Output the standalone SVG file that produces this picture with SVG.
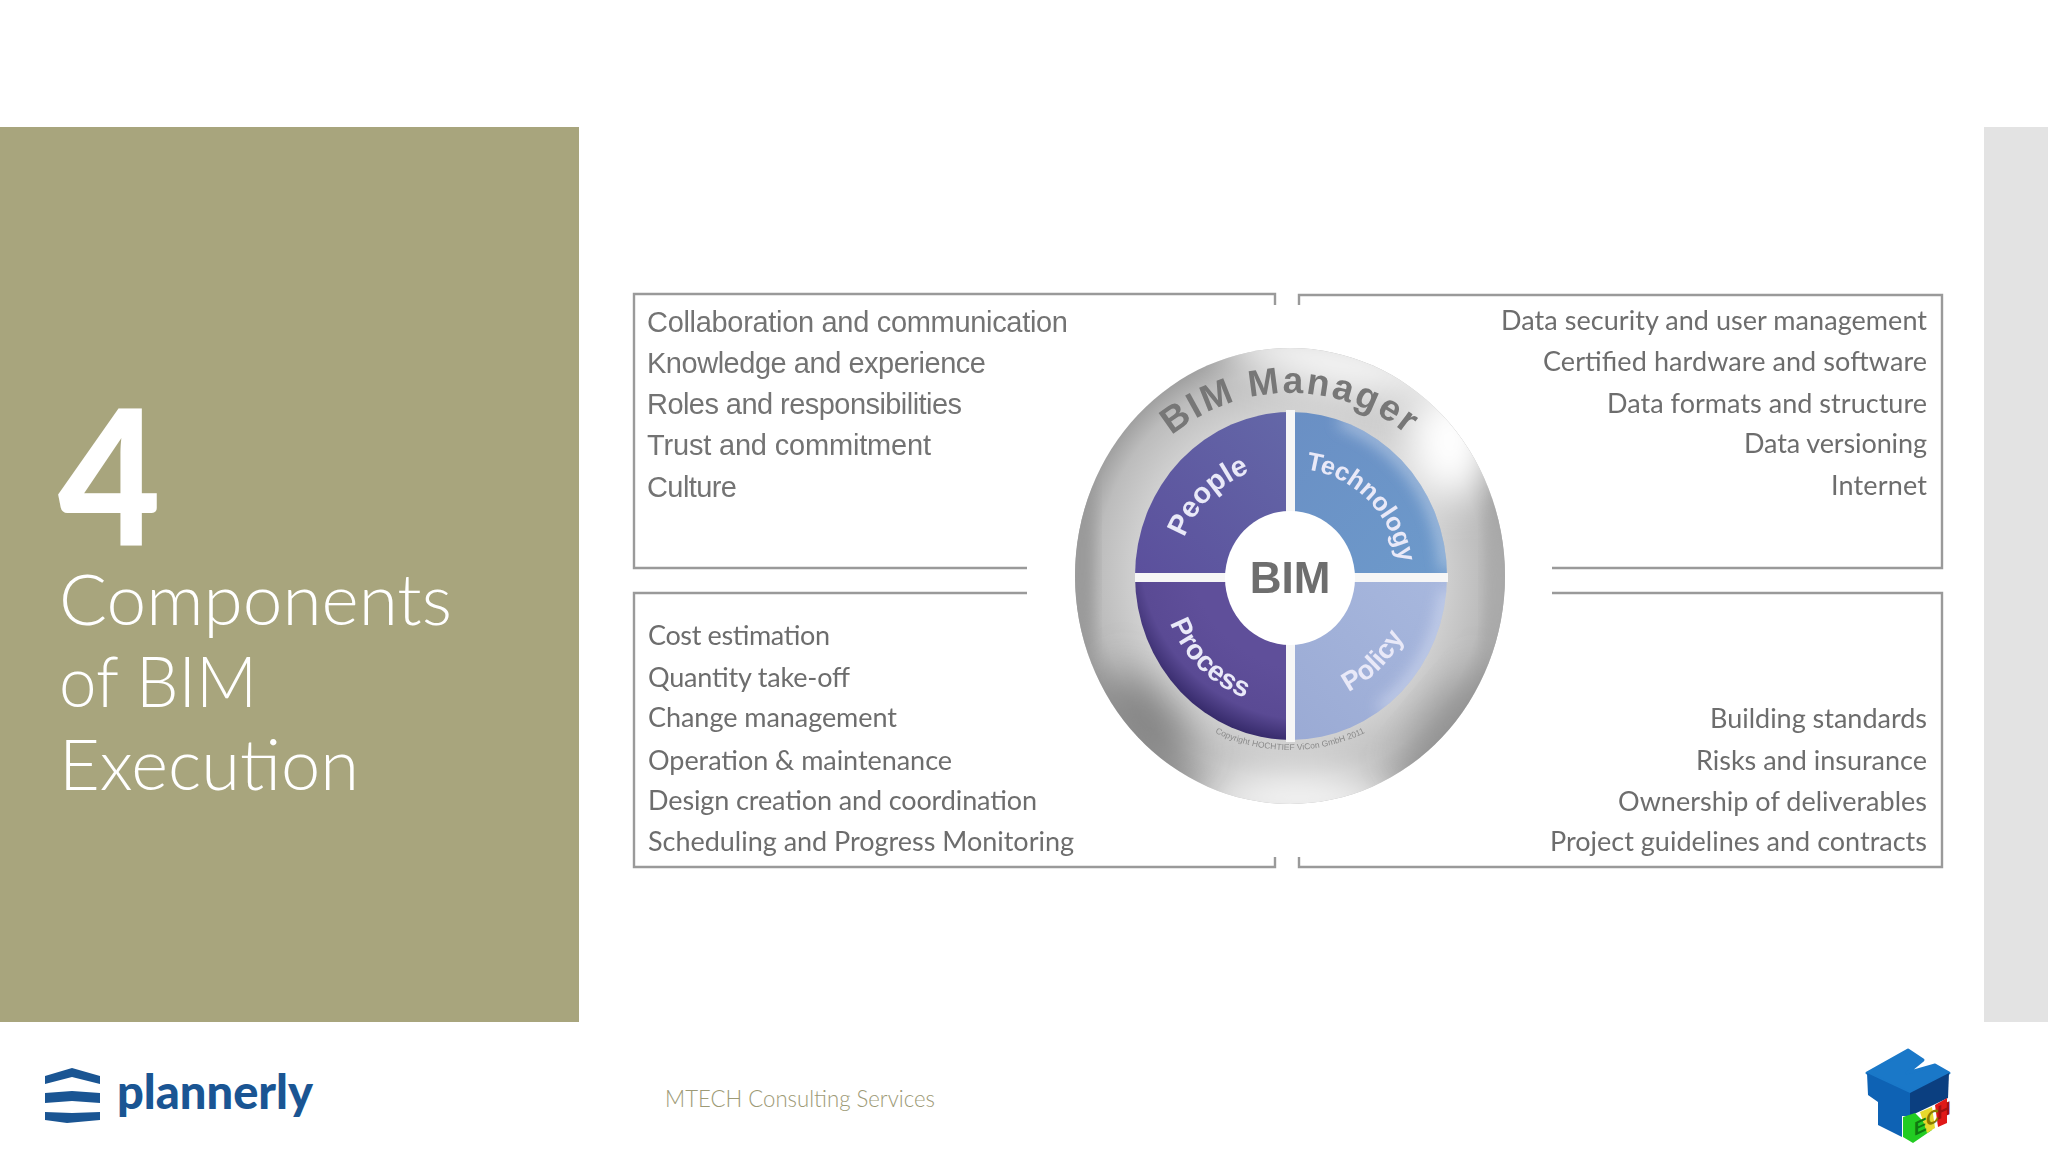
<svg xmlns="http://www.w3.org/2000/svg" xmlns:xlink="http://www.w3.org/1999/xlink" width="2048" height="1152" viewBox="0 0 2048 1152">
<style>
.h{font-family:"Liberation Sans",Arial,sans-serif;font-size:29px;fill:#737373}
.c{font-family:Lato,"Open Sans",sans-serif;font-size:27px;fill:#6d6d6d}
.title{font-family:Lato,"Open Sans",sans-serif;font-weight:300;font-size:70px;fill:#fff}
.f{fill:none;stroke:#9a9a9a;stroke-width:2.4}
.q{font-family:"Liberation Sans",Arial,sans-serif;font-weight:700;fill:#e9e9f8;text-anchor:middle}
</style>
<defs>
<filter id="soft" x="-5%" y="-20%" width="110%" height="140%"><feGaussianBlur stdDeviation="0.55"/></filter>
<filter id="b20" x="-60%" y="-100%" width="220%" height="300%"><feGaussianBlur stdDeviation="20"/></filter>
<filter id="b8" x="-30%" y="-30%" width="160%" height="160%"><feGaussianBlur stdDeviation="8"/></filter>
<clipPath id="discClip"><ellipse cx="1290" cy="576" rx="215" ry="228"/></clipPath>
<clipPath id="innerClip"><ellipse cx="1291" cy="576" rx="156" ry="164"/></clipPath>
<radialGradient id="metal" cx="0.5" cy="0.5" r="0.5"><stop offset="0.68" stop-color="#d4d4d4"/><stop offset="0.9" stop-color="#bcbcbc"/><stop offset="1" stop-color="#a0a0a0"/></radialGradient>
<linearGradient id="peopleG" x1="0" y1="1" x2="1" y2="0"><stop offset="0" stop-color="#5b4f9c"/><stop offset="1" stop-color="#6468a8"/></linearGradient>
<linearGradient id="techG" x1="0" y1="0" x2="1" y2="1"><stop offset="0" stop-color="#6a8fc4"/><stop offset="1" stop-color="#6d9acb"/></linearGradient>
<radialGradient id="procG" gradientUnits="userSpaceOnUse" cx="1310" cy="550" r="200"><stop offset="0.6" stop-color="#5f4f9a"/><stop offset="0.85" stop-color="#5a4a94"/><stop offset="1" stop-color="#2d2260"/></radialGradient>
<linearGradient id="polG" x1="0" y1="1" x2="1" y2="0"><stop offset="0" stop-color="#9aaad4"/><stop offset="1" stop-color="#a8b8de"/></linearGradient>
<path id="pManager" d="M1105 578A185 185 0 0 1 1475 578"/>
<path id="pPeople" d="M1177 578A113 113 0 0 1 1290 465"/>
<path id="pTech" d="M1290 468A110 110 0 0 1 1400 578"/>
<path id="pProcess" d="M1162 578A128 128 0 0 0 1290 706"/>
<path id="pPolicy" d="M1290 706A128 128 0 0 0 1418 578"/>
<path id="pCopy" d="M1118 578A172 172 0 0 0 1462 578"/>
</defs>
<rect width="2048" height="1152" fill="#fff"/>
<rect id="panel-left" x="0" y="127" width="579" height="895" fill="#a8a57d"/>
<rect id="panel-right" x="1984" y="127" width="64" height="895" fill="#e3e3e3"/>
<g id="title">
<text x="58" y="546" font-family="Lato,'Open Sans',sans-serif" font-weight="900" font-size="189" fill="#fff" textLength="103" lengthAdjust="spacingAndGlyphs">4</text>
<text class="title" x="59" y="625" textLength="393" lengthAdjust="spacingAndGlyphs">Components</text>
<text class="title" x="59" y="707" textLength="198" lengthAdjust="spacingAndGlyphs">of BIM</text>
<text class="title" x="59" y="790" textLength="300" lengthAdjust="spacingAndGlyphs">Execution</text>
</g>
<g id="box-people">
<path class="f" d="M1275 305V294H634V568H1027"/>
<g filter="url(#soft)">
<text class="h" x="647" y="332" textLength="421">Collaboration and communication</text>
<text class="h" x="647" y="373" textLength="339">Knowledge and experience</text>
<text class="h" x="647" y="414" textLength="315">Roles and responsibilities</text>
<text class="h" x="647" y="455" textLength="284">Trust and commitment</text>
<text class="h" x="647" y="497" textLength="90">Culture</text>
</g>
</g>
<g id="box-technology">
<path class="f" d="M1299 305V295H1942V568H1552"/>
<g filter="url(#soft)">
<text class="c" x="1501" y="330" textLength="426">Data security and user management</text>
<text class="c" x="1543" y="371" textLength="384">Certified hardware and software</text>
<text class="c" x="1607" y="413" textLength="320">Data formats and structure</text>
<text class="c" x="1744" y="453" textLength="183">Data versioning</text>
<text class="c" x="1831" y="495" textLength="96">Internet</text>
</g>
</g>
<g id="box-process">
<path class="f" d="M1027 593H634V867H1275V857"/>
<g filter="url(#soft)">
<text class="c" x="648" y="645" textLength="182">Cost estimation</text>
<text class="c" x="648" y="687" textLength="202">Quantity take-off</text>
<text class="c" x="648" y="727" textLength="249">Change management</text>
<text class="c" x="648" y="770" textLength="304">Operation &amp; maintenance</text>
<text class="c" x="648" y="810" textLength="389">Design creation and coordination</text>
<text class="c" x="648" y="851" textLength="426">Scheduling and Progress Monitoring</text>
</g>
</g>
<g id="box-policy">
<path class="f" d="M1552 593H1942V867H1299V857"/>
<g filter="url(#soft)">
<text class="c" x="1710" y="728" textLength="217">Building standards</text>
<text class="c" x="1696" y="770" textLength="231">Risks and insurance</text>
<text class="c" x="1618" y="811" textLength="309">Ownership of deliverables</text>
<text class="c" x="1550" y="851" textLength="377">Project guidelines and contracts</text>
</g>
</g>
<g id="disc">
<ellipse cx="1290" cy="576" rx="215" ry="228" fill="url(#metal)"/>
<g clip-path="url(#discClip)">
<ellipse cx="1340" cy="362" rx="130" ry="26" fill="#fff" filter="url(#b20)" transform="rotate(12 1340 362)"/>
<ellipse cx="1450" cy="440" rx="45" ry="60" fill="#fff" filter="url(#b20)"/>
<ellipse cx="1300" cy="800" rx="110" ry="26" fill="#fff" filter="url(#b20)"/>
<ellipse cx="1148" cy="720" rx="60" ry="22" fill="#777" filter="url(#b20)" transform="rotate(50 1148 720)"/>
<ellipse cx="1448" cy="722" rx="60" ry="16" fill="#8a8a8a" filter="url(#b20)" transform="rotate(-50 1448 722)"/>
<ellipse cx="1082" cy="560" rx="12" ry="110" fill="#999" filter="url(#b8)"/>
<ellipse cx="1498" cy="590" rx="12" ry="90" fill="#aaa" filter="url(#b8)"/>
</g>
</g>
<g id="ring-label">
<text font-family="'Liberation Sans',Arial,sans-serif" font-weight="700" font-size="37" fill="#777" letter-spacing="2.4" text-anchor="middle" filter="url(#soft)"><textPath xlink:href="#pManager" href="#pManager" startOffset="50%">BIM Manager</textPath></text>
<text font-family="'Liberation Sans',Arial,sans-serif" font-size="8.5" fill="#8a8a8a" text-anchor="middle" filter="url(#soft)"><textPath xlink:href="#pCopy" href="#pCopy" startOffset="50%">Copyright HOCHTIEF ViCon GmbH 2011</textPath></text>
</g>
<g id="quadrants" clip-path="url(#innerClip)">
<g id="people"><rect x="1130" y="405" width="161" height="171" fill="url(#peopleG)"/></g>
<g id="technology"><rect x="1291" y="405" width="161" height="171" fill="url(#techG)"/></g>
<g id="process"><rect x="1130" y="576" width="161" height="170" fill="url(#procG)"/></g>
<g id="policy"><rect x="1291" y="576" width="161" height="170" fill="url(#polG)"/></g>
<path d="M1340 420A156 164 0 0 1 1447 570" fill="none" stroke="#dfe6f4" stroke-width="10" filter="url(#b8)" opacity=".7"/>
<path d="M1447 590A156 164 0 0 1 1380 710" fill="none" stroke="#e4e9f8" stroke-width="10" filter="url(#b8)" opacity=".7"/>
</g>
<g id="cross" fill="#f6f6f6">
<rect x="1286" y="410" width="9" height="332"/>
<rect x="1135" y="573" width="313" height="9"/>
</g>
<g id="quadrant-labels" filter="url(#soft)">
<text class="q" font-size="29"><textPath xlink:href="#pPeople" href="#pPeople" startOffset="50%">People</textPath></text>
<text class="q" font-size="25.5"><textPath xlink:href="#pTech" href="#pTech" startOffset="50%">Technology</textPath></text>
<text class="q" font-size="28"><textPath xlink:href="#pProcess" href="#pProcess" startOffset="50%">Process</textPath></text>
<text class="q" font-size="27"><textPath xlink:href="#pPolicy" href="#pPolicy" startOffset="50%">Policy</textPath></text>
</g>
<g id="hub">
<ellipse cx="1290" cy="578" rx="65" ry="67" fill="#fff"/>
<text x="1290" y="593" text-anchor="middle" font-family="'Liberation Sans',Arial,sans-serif" font-weight="700" font-size="44" fill="#6e6e6e" filter="url(#soft)">BIM</text>
</g>
<g id="plannerly-logo" fill="#1a5593">
<path d="M45 1076 72 1068 100 1076V1084L72 1077 45 1084Z"/>
<path d="M45 1093 72 1091 100 1093V1103L72 1101 45 1103Z"/>
<path d="M45 1112 72 1113 100 1112V1120L67 1123 45 1120Z"/>
<text x="117" y="1109" font-family="Lato,'Open Sans',sans-serif" font-weight="900" font-size="47" textLength="196" lengthAdjust="spacingAndGlyphs">plannerly</text>
</g>
<text id="footer" x="665" y="1107" font-family="Lato,'Open Sans',sans-serif" font-weight="300" font-size="23" fill="#9d9a76" textLength="270" lengthAdjust="spacingAndGlyphs">MTECH Consulting Services</text>
<g id="mtech-logo">
<path d="M1867 1073 1908 1050 1923 1060 1907 1073 1935 1065 1949 1073 1910 1093Z" fill="#1a78c8" stroke="#1a78c8" stroke-width="3" stroke-linejoin="round"/>
<path d="M1867 1073 1910 1093V1116H1902V1137L1878 1125V1102L1868 1095Z" fill="#0e62b4"/>
<path d="M1910 1093 1949 1073 1948 1098 1910 1116Z" fill="#0b3f80"/>
<path d="M1903 1117 1915 1113 1932 1130 1913 1143 1903 1137Z" fill="#22cc22"/>
<path d="M1920 1112 1932 1107 1935 1128 1927 1133Z" fill="#e6d92e"/>
<path d="M1935 1105 1947 1098 1947 1123 1938 1127Z" fill="#e01818"/>
<g font-family="'Liberation Sans',Arial,sans-serif" font-weight="700" font-size="19">
<text transform="translate(1914 1136) skewY(-25)" fill="#0f7a0f">E</text>
<text transform="translate(1926 1127) skewY(-25)" fill="#8a7a00">C</text>
<text transform="translate(1937 1120) skewY(-25)" fill="#a01010">H</text>
</g>
</g>
</svg>
